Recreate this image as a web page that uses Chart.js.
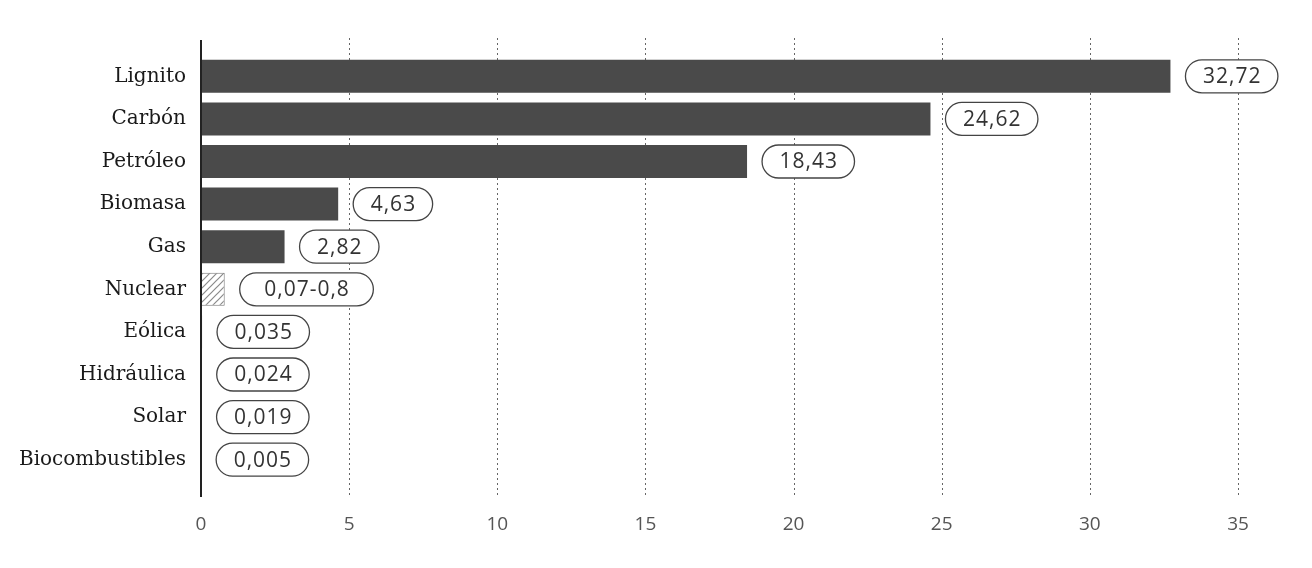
<!DOCTYPE html>
<html>
<head>
<meta charset="utf-8">
<script src="https://cdn.jsdelivr.net/npm/chart.js@4.4.1/dist/chart.umd.min.js"></script>
<style>
  html, body { margin: 0; padding: 0; background: #fff; }
  canvas { display: block; }
</style>
</head>
<body>
<canvas id="chart" width="1312" height="568"></canvas>
<script>
const categories = ['Lignito', 'Carbón', 'Petróleo', 'Biomasa', 'Gas', 'Nuclear', 'Eólica', 'Hidráulica', 'Solar', 'Biocombustibles'];
const values = [32.72, 24.62, 18.43, 4.63, 2.82, 0.8, 0.035, 0.024, 0.019, 0.005];
const valueLabels = ['32,72', '24,62', '18,43', '4,63', '2,82', '0,07-0,8', '0,035', '0,024', '0,019', '0,005'];
const xTicks = [0, 5, 10, 15, 20, 25, 30, 35];

const BAR = '#4a4a4a';

// diagonal hatch for the nuclear range bar
function hatch() {
    const c = document.createElement('canvas');
    c.width = 7; c.height = 7;
    const g = c.getContext('2d');
    g.fillStyle = '#fff';
    g.fillRect(0, 0, 7, 7);
    g.strokeStyle = '#8a8a8a';
    g.lineWidth = 1.2;
    g.beginPath();
    g.moveTo(0, 7); g.lineTo(7, 0);
    g.moveTo(-1, 1); g.lineTo(1, -1);
    g.moveTo(6, 8); g.lineTo(8, 6);
    g.stroke();
    return g.createPattern(c, 'repeat');
}

const gridAndAxis = {
    id: 'gridAndAxis',
    beforeDatasetsDraw(chart) {
        const { ctx, scales: { x } } = chart;
        ctx.save();
        ctx.strokeStyle = '#666';
        ctx.lineWidth = 1;
        ctx.setLineDash([2, 3]);
        xTicks.slice(1).forEach(v => {
            const px = Math.round(x.getPixelForValue(v)) + 0.5;
            ctx.beginPath();
            ctx.moveTo(px, 38);
            ctx.lineTo(px, 497);
            ctx.stroke();
        });
        ctx.restore();
    },
    afterDatasetsDraw(chart) {
        const { ctx, scales: { x } } = chart;
        ctx.save();
        ctx.strokeStyle = '#222';
        ctx.lineWidth = 2;
        const px = x.getPixelForValue(0);
        ctx.beginPath();
        ctx.moveTo(px, 40);
        ctx.lineTo(px, 497);
        ctx.stroke();
        ctx.restore();
    }
};

const pillLabels = {
    id: 'pillLabels',
    afterDatasetsDraw(chart) {
        const { ctx } = chart;
        const meta = chart.getDatasetMeta(0);
        ctx.save();
        ctx.font = '21px "Open Sans"';
        ctx.letterSpacing = '1px';
        ctx.textAlign = 'center';
        ctx.textBaseline = 'middle';
        meta.data.forEach((bar, i) => {
            const text = valueLabels[i];
            const tw = ctx.measureText(text).width;
            const pad = text.includes('-') ? 24 : 17; // range label sits in a roomier pill
            const w = tw + pad * 2, h = 33, r = h / 2;
            const x0 = bar.x + 15, y0 = bar.y - h / 2;
            ctx.beginPath();
            ctx.moveTo(x0 + r, y0);
            ctx.lineTo(x0 + w - r, y0);
            ctx.arc(x0 + w - r, y0 + r, r, -Math.PI / 2, Math.PI / 2);
            ctx.lineTo(x0 + r, y0 + h);
            ctx.arc(x0 + r, y0 + r, r, Math.PI / 2, Math.PI * 1.5);
            ctx.closePath();
            ctx.fillStyle = '#fff';
            ctx.fill();
            ctx.strokeStyle = '#444';
            ctx.lineWidth = 1.3;
            ctx.stroke();
            ctx.fillStyle = '#333';
            ctx.fillText(text, x0 + w / 2 + 0.5, bar.y + 1);
        });
        ctx.restore();
    }
};

const pattern = hatch();

new Chart(document.getElementById('chart'), {
    type: 'bar',
    data: {
        labels: categories,
        datasets: [{
            data: values,
            backgroundColor: categories.map(c => c === 'Nuclear' ? pattern : BAR),
            borderColor: categories.map(c => c === 'Nuclear' ? '#777' : BAR),
            borderWidth: categories.map(c => c === 'Nuclear' ? 1 : 0),
            borderSkipped: false,
            barPercentage: 0.775,
            categoryPercentage: 1,
        }],
    },
    options: {
        indexAxis: 'y',
        responsive: false,
        animation: false,
        layout: { padding: { left: 0, top: 55, right: 74, bottom: 0 } },
        plugins: {
            legend: { display: false },
            tooltip: { enabled: false },
        },
        scales: {
            x: {
                min: 0,
                max: 35,
                afterBuildTicks: s => { s.ticks = xTicks.map(v => ({ value: v })); },
                afterFit: s => { s.height = 87; },
                grid: { display: false, drawTicks: false },
                border: { display: false },
                ticks: {
                    padding: 32,
                    color: '#555',
                    font: { family: '"Open Sans"', size: 19 },
                },
            },
            y: {
                afterFit: s => { s.width = 201; },
                grid: { display: false, drawTicks: false },
                border: { display: false },
                ticks: {
                    padding: 15,
                    color: '#1a1a1a',
                    font: { family: '"DejaVu Serif"', size: 20 },
                },
            },
        },
    },
    plugins: [gridAndAxis, pillLabels],
});
</script>
</body>
</html>
